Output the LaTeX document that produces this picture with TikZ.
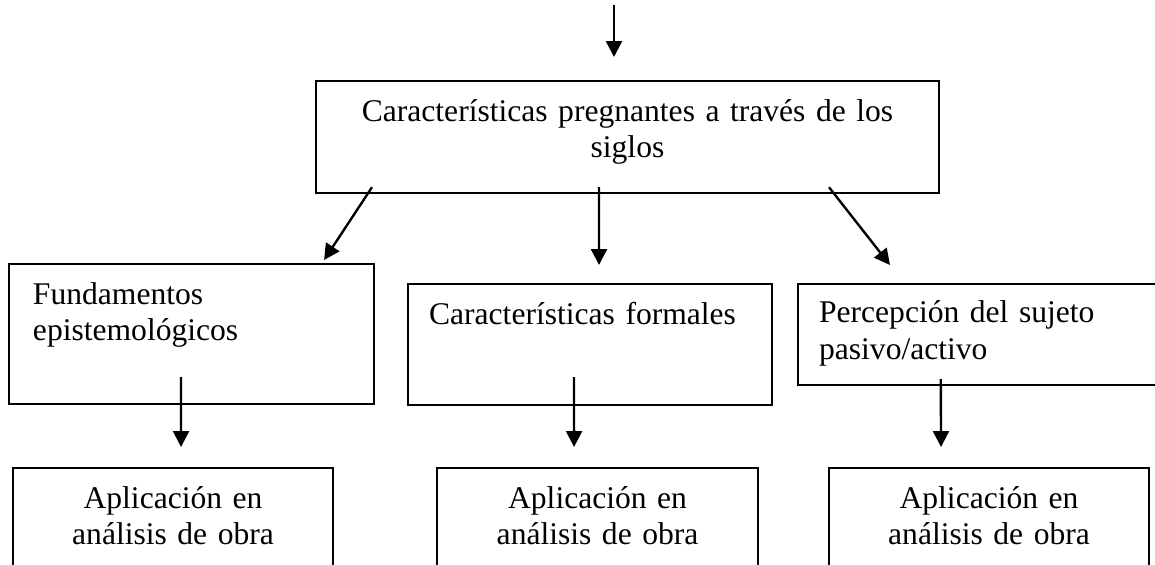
\documentclass[tikz,border=0pt]{standalone}
\usepackage{fontspec}
\setmainfont{Liberation Serif}
\usetikzlibrary{positioning,arrows.meta,calc}

\begin{document}
\begin{tikzpicture}[
  x=0.38pt, y=-0.38pt,
  caja/.style={draw=black, line width=0.8pt, anchor=north west, inner ysep=0pt,
               font=\fontsize{12}{13.9}\selectfont},
  izq/.style={caja, align=left, inner xsep=8pt, text width=122.5pt},
  centro/.style={caja, align=center, inner xsep=0pt},
  flecha/.style={-{Triangle[length=6pt, width=6pt]}, line width=0.9pt},
]
\clip (0,0) rectangle (1155,565);

% tema central
\coordinate (entrada) at (614,5);
\node[centro, text width=236.7pt, text height=15.2pt, text depth=27.4pt] (tema) at (315,80)
  {Características pregnantes a través de los\\siglos};

% tres ejes
\node[izq, inner xsep=9.1pt, text width=120.5pt, text height=15.2pt, text depth=38pt] (fund) at (8,263)
  {Fundamentos\\epistemológicos};
\node[izq, text width=122.3pt, text height=15.2pt, text depth=30.8pt] (form) at (407,283)
  {Características formales};
\node[izq, text height=14.8pt, text depth=23.6pt] (perc) at (797,283)
  {Percepción del sujeto\\pasivo/activo};

% aplicaciones
\node[centro, text width=121.6pt, text height=15.2pt, text depth=36pt] (apl1) at (12,467)
  {Aplicación en\\análisis de obra};
\node[centro, text width=122pt, text height=15.2pt, text depth=36pt] (apl2) at (436,467)
  {Aplicación en\\análisis de obra};
\node[centro, text width=121.6pt, text height=15.2pt, text depth=36pt] (apl3) at (828,467)
  {Aplicación en\\análisis de obra};

\draw[flecha] (entrada) -- ($(entrada |- tema.north)+(0,-23)$);
\draw[flecha] ($(tema.south west)+(57,-7)$) -- ($(fund.north east)+(-51,-3)$);
\draw[flecha] ($(tema.south)+(-28.5,-7)$) -- ($(form.north)+(9,-18)$);
\draw[flecha] ($(tema.south east)+(-111,-7)$) -- ($(perc.north west)+(93,-18)$);

\draw[flecha] ($(fund.south)+(-10.5,-28)$) -- ($(apl1.north)+(8,-20)$);
\draw[flecha] ($(form.south)+(-16,-29)$) -- ($(apl2.north)+(-23.5,-20)$);
\draw[flecha] ($(perc.south)+(-39.5,-7)$) -- ($(apl3.north)+(-48,-20)$);
\end{tikzpicture}
\end{document}
